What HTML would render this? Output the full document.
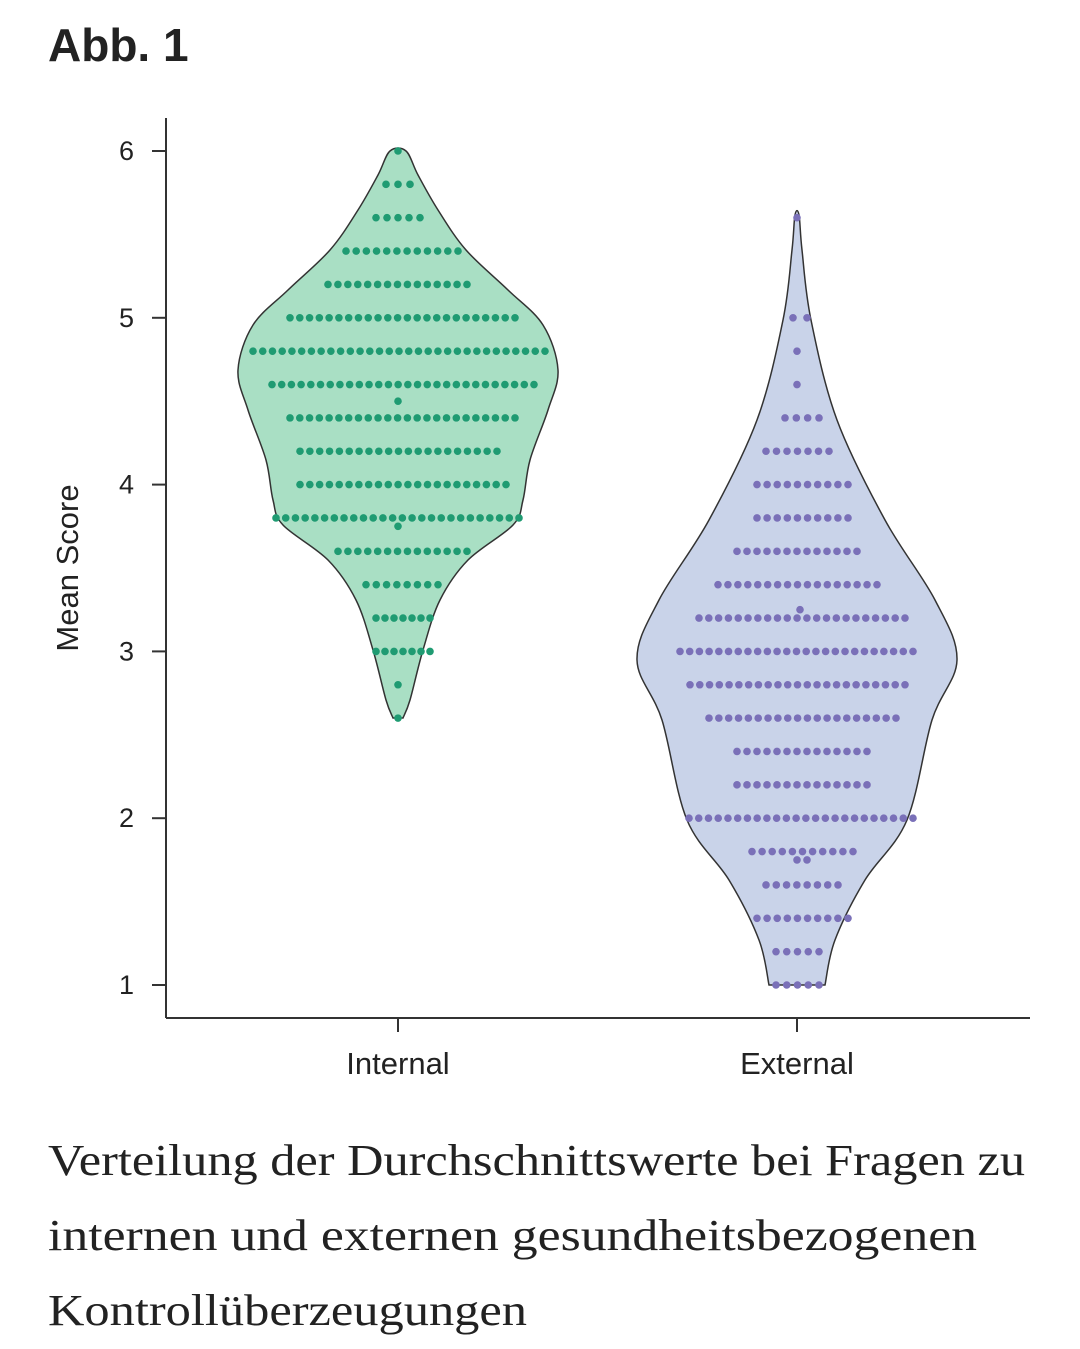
<!DOCTYPE html>
<html><head><meta charset="utf-8">
<style>
body{margin:0;background:#fff;width:1080px;height:1349px;overflow:hidden;position:relative}
.t{position:absolute;left:48px;top:18px;font:bold 46px "Liberation Sans",sans-serif;color:#222}
.c{position:absolute;left:48px;font:44px "Liberation Serif",serif;color:#222;white-space:nowrap;transform-origin:0 0}
</style></head><body>
<div class="t">Abb. 1</div>
<svg width="1080" height="1349" style="position:absolute;left:0;top:0" id="s">
<g font-family="Liberation Sans, sans-serif" font-size="27" fill="#222">
<line x1="166" y1="118" x2="166" y2="1018" stroke="#333" stroke-width="2"/>
<line x1="166" y1="1018" x2="1030" y2="1018" stroke="#333" stroke-width="2"/>
<g id="ticks"></g>
<text x="398" y="1074" text-anchor="middle" font-size="31">Internal</text>
<text x="797" y="1074" text-anchor="middle" font-size="31">External</text>
<text transform="translate(78,568) rotate(-90)" text-anchor="middle" font-size="31">Mean Score</text>
</g>
<g id="v"></g>
</svg>
<div class="c" id="c1" data-w="977" style="top:1135px">Verteilung der Durchschnittswerte bei Fragen zu</div>
<div class="c" id="c2" data-w="929" style="top:1210px">internen und externen gesundheitsbezogenen</div>
<div class="c" id="c3" data-w="479" style="top:1285px">Kontrollüberzeugungen</div>
<script>
for(const id of ['c1','c2','c3']){const e=document.getElementById(id);const w=e.getBoundingClientRect().width;e.style.transform=`scaleX(${(+e.dataset.w)/w})`;}
const Y=v=>985-(v-1)*166.8;
let tk=document.getElementById('ticks'),h='';
for(let i=1;i<=6;i++){h+=`<line x1="152" x2="166" y1="${Y(i)}" y2="${Y(i)}" stroke="#333" stroke-width="2"/><text x="134" y="${Y(i)+9}" text-anchor="end">${i}</text>`;}
h+=`<line x1="398" x2="398" y1="1018" y2="1032" stroke="#333" stroke-width="2"/><line x1="797" x2="797" y1="1018" y2="1032" stroke="#333" stroke-width="2"/>`;
tk.innerHTML=h;
function path(cx,pts){
 let L=pts.map(p=>[cx-p[1],p[0]]),R=pts.map(p=>[cx+p[1],p[0]]).reverse();
 let all=R.concat(L);
 let d=`M${all[0][0]},${all[0][1]}`;
 for(let i=0;i<all.length-1;i++){
  let p0=all[Math.max(i-1,0)],p1=all[i],p2=all[i+1],p3=all[Math.min(i+2,all.length-1)];
  d+=`C${p1[0]+(p2[0]-p0[0])/6},${p1[1]+(p2[1]-p0[1])/6} ${p2[0]-(p3[0]-p1[0])/6},${p2[1]-(p3[1]-p1[1])/6} ${p2[0]},${p2[1]}`;
 }
 return d+'Z';
}
let out='';
out+=`<path d="${path(398,[[151,8],[175,20],[210,40],[250,68],[290,110],[325,145],[370,160],[410,150],[460,132],[500,125],[525,115],[560,70],[600,42],[650,25],[700,12],[718,5]])}" fill="#a9dfc4" stroke="#333" stroke-width="1.5"/>`;
out+=`<path d="${path(797,[[215,2],[250,5],[320,14],[420,40],[520,88],[600,138],[660,160],[720,135],[820,110],[880,68],[940,38],[985,28]])}" fill="#c9d3e9" stroke="#333" stroke-width="1.5"/>`;
function rows(col,list){
 for(const [v,l,r] of list){
  let n=Math.max(1,Math.round((r-l)/9.8)+1),s=n>1?(r-l)/(n-1):0;
  for(let i=0;i<n;i++)out+=`<circle cx="${l+i*s}" cy="${Y(v)}" r="3.8" fill="${col}"/>`;
 }
}
rows('#1f9b72',[[6,398,398],[5.8,386,410],[5.6,376,420],[5.4,346,458],[5.2,328,467],[5,290,515],[4.8,253,545],[4.6,272,534],[4.5,398,398],[4.4,290,515],[4.2,300,497],[4,300,506],[3.8,276,519],[3.75,398,398],[3.6,338,467],[3.4,366,438],[3.2,376,430],[3,376,430],[2.8,398,398],[2.6,398,398]]);
rows('#7a70b8',[[5.6,797,797],[5,793,807],[4.8,797,797],[4.6,797,797],[4.4,785,819],[4.2,766,829],[4,757,848],[3.8,757,848],[3.6,737,857],[3.4,718,877],[3.25,800,800],[3.2,699,905],[3,680,913],[2.8,690,905],[2.6,709,896],[2.4,737,867],[2.2,737,867],[2,689,913],[1.8,752,853],[1.75,797,807],[1.6,766,838],[1.4,757,848],[1.2,776,819],[1,776,819]]);
document.getElementById('v').innerHTML=out;
</script>
</body></html>
